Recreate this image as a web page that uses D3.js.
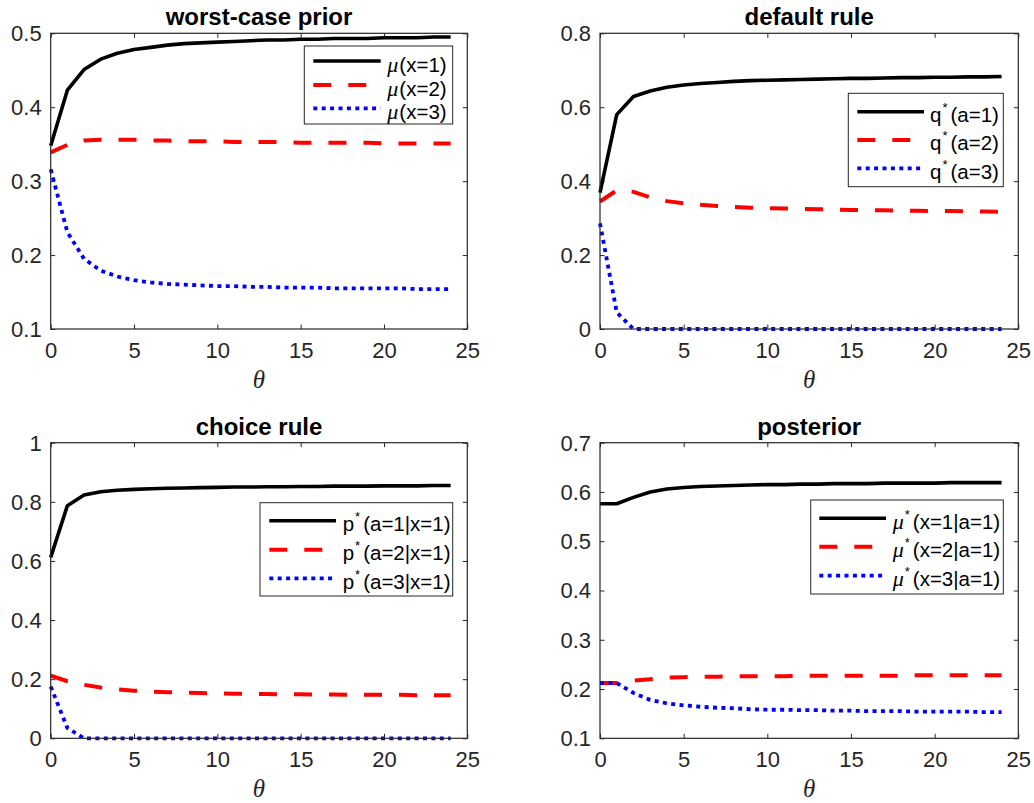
<!DOCTYPE html>
<html>
<head>
<meta charset="utf-8">
<script src="https://cdn.jsdelivr.net/npm/d3@7"></script>
<style>
  html, body { margin: 0; padding: 0; background: #fff; }
  svg { display: block; }
  .tick text { font-family: "Liberation Sans", Arial, sans-serif; fill: #262626; }
</style>
</head>
<body>
<svg id="chart" width="1034" height="803"></svg>
<script>
// ---------------- data ----------------
const theta = [0,1,2,3,4,5,6,7,8,9,10,11,12,13,14,15,16,17,18,19,20,21,22,23,24];
const xTicks = [0,5,10,15,20,25];

// worst-case prior
const prior1 = [0.348,0.423,0.451,0.465,0.473,0.478,0.481,0.484,0.486,0.487,0.488,0.489,0.490,0.491,0.491,0.492,0.492,0.493,0.493,0.493,0.494,0.494,0.494,0.495,0.495];
const prior2 = [0.339,0.349,0.355,0.356,0.356,0.356,0.355,0.355,0.354,0.354,0.354,0.353,0.353,0.353,0.353,0.352,0.352,0.352,0.352,0.352,0.351,0.351,0.351,0.351,0.351];
const prior3 = [0.316,0.231,0.195,0.179,0.171,0.166,0.163,0.161,0.160,0.159,0.158,0.158,0.157,0.157,0.156,0.156,0.156,0.155,0.155,0.155,0.155,0.155,0.154,0.154,0.154];
const priorTicks = [0.1,0.2,0.3,0.4,0.5];

// default rule
const default1 = [0.369,0.580,0.629,0.644,0.654,0.660,0.664,0.667,0.670,0.672,0.673,0.674,0.675,0.676,0.677,0.678,0.678,0.679,0.680,0.680,0.681,0.681,0.682,0.682,0.683];
const default2 = [0.345,0.375,0.371,0.356,0.346,0.340,0.336,0.333,0.330,0.328,0.327,0.326,0.325,0.324,0.323,0.322,0.322,0.321,0.320,0.320,0.319,0.319,0.318,0.318,0.317];
const default3 = [0.286,0.045,0,0,0,0,0,0,0,0,0,0,0,0,0,0,0,0,0,0,0,0,0,0,0];
const defaultTicks = [0,0.2,0.4,0.6,0.8];

// choice rule
const choice1 = [0.612,0.787,0.823,0.834,0.839,0.842,0.844,0.846,0.847,0.848,0.849,0.850,0.850,0.851,0.851,0.852,0.852,0.853,0.853,0.853,0.854,0.854,0.854,0.855,0.855];
const choice2 = [0.212,0.193,0.181,0.172,0.166,0.161,0.158,0.156,0.154,0.153,0.152,0.151,0.150,0.150,0.149,0.149,0.148,0.148,0.147,0.147,0.147,0.147,0.146,0.146,0.146];
const choice3 = [0.175,0.035,0,0,0,0,0,0,0,0,0,0,0,0,0,0,0,0,0,0,0,0,0,0,0];
const choiceTicks = [0,0.2,0.4,0.6,0.8,1];

// posterior
const post1 = [0.576,0.576,0.589,0.600,0.606,0.609,0.611,0.612,0.613,0.614,0.615,0.615,0.616,0.616,0.617,0.617,0.617,0.618,0.618,0.618,0.618,0.619,0.619,0.619,0.619];
const post2 = [0.212,0.212,0.217,0.220,0.223,0.224,0.225,0.225,0.226,0.226,0.226,0.226,0.227,0.227,0.227,0.227,0.227,0.227,0.227,0.228,0.228,0.228,0.228,0.228,0.228];
const post3 = [0.212,0.212,0.192,0.178,0.171,0.167,0.164,0.162,0.161,0.159,0.158,0.158,0.157,0.157,0.156,0.156,0.155,0.155,0.155,0.154,0.154,0.154,0.154,0.153,0.153];
const postTicks = [0.1,0.2,0.3,0.4,0.5,0.6,0.7];

const titles = ["worst-case prior","default rule","choice rule","posterior"];
// legend labels: [base, superscript star?, suffix, base is greek]
const priorLabels = [["\u03bc",false,"(x=1)",true],["\u03bc",false,"(x=2)",true],["\u03bc",false,"(x=3)",true]];
const defaultLabels = [["q",true,"(a=1)",false],["q",true,"(a=2)",false],["q",true,"(a=3)",false]];
const choiceLabels = [["p",true,"(a=1|x=1)",false],["p",true,"(a=2|x=1)",false],["p",true,"(a=3|x=1)",false]];
const postLabels = [["\u03bc",true,"(x=1|a=1)",true],["\u03bc",true,"(x=2|a=1)",true],["\u03bc",true,"(x=3|a=1)",true]];

// ---------------- layout / styles ----------------
const styles = [
  {stroke:"#000000", dash:null, width:3.6},
  {stroke:"#ff0000", dash:"18,17", width:4},
  {stroke:"#0000ff", dash:"4,4.4", width:3.8}
];

const panels = [
  {title:titles[0], box:[50.7,467.3,33.3,329], yDom:[0.1,0.5], yTicks:priorTicks, series:[prior1,prior2,prior3], labels:priorLabels,
   leg:{x:304.3,y:46,w:148.4,h:78,rows:[15,39,62.3],lx0:9,lx1:76.4,tx:83}},
  {title:titles[1], box:[600,1018.3,33.3,329], yDom:[0,0.8], yTicks:defaultTicks, series:[default1,default2,default3], labels:defaultLabels,
   leg:{x:848.3,y:93.3,w:155,h:93.4,rows:[18.4,46.7,75],lx0:9,lx1:75.7,tx:81.7}},
  {title:titles[2], box:[50.7,467.3,442.7,738.3], yDom:[0,1], yTicks:choiceTicks, series:[choice1,choice2,choice3], labels:choiceLabels,
   leg:{x:260,y:502.7,w:192.7,h:93.3,rows:[18,47,75.6],lx0:9.3,lx1:76,tx:82.7}},
  {title:titles[3], box:[600,1018.3,442.7,738.3], yDom:[0.1,0.7], yTicks:postTicks, series:[post1,post2,post3], labels:postLabels,
   leg:{x:810.7,y:500,w:192.6,h:94,rows:[18.3,46.7,75.7],lx0:8.6,lx1:75.3,tx:82}}
];

const svg = d3.select("#chart");
const fmt = d => (d === 0 ? "0" : (Math.abs(d - 1) < 1e-9 ? "1" : d3.format(".1f")(d)));
const axisColor = "#262626";
const tickFont = 22;

panels.forEach(p => {
  const [x0,x1,y0,y1] = p.box;
  const x = d3.scaleLinear().domain([0,25]).range([x0,x1]);
  const y = d3.scaleLinear().domain(p.yDom).range([y1,y0]);
  const g = svg.append("g");

  g.append("rect").attr("x",x0).attr("y",y0).attr("width",x1-x0).attr("height",y1-y0).attr("fill","#fff");

  const left = g.append("g").attr("transform",`translate(${x0},0)`)
    .call(d3.axisLeft(y).tickValues(p.yTicks).tickFormat(fmt).tickSizeInner(-4.5).tickSizeOuter(0).tickPadding(9));
  const bottom = g.append("g").attr("transform",`translate(0,${y1})`)
    .call(d3.axisBottom(x).tickValues(xTicks).tickFormat(d3.format("d")).tickSizeInner(-4.5).tickSizeOuter(0).tickPadding(13));
  const right = g.append("g").attr("transform",`translate(${x1},0)`)
    .call(d3.axisRight(y).tickValues(p.yTicks).tickFormat("").tickSizeInner(-4.5).tickSizeOuter(0));
  const top = g.append("g").attr("transform",`translate(0,${y0})`)
    .call(d3.axisTop(x).tickValues(xTicks).tickFormat("").tickSizeInner(-4.5).tickSizeOuter(0));
  [left,bottom,right,top].forEach(a => {
    a.selectAll(".domain").remove();
    a.selectAll(".tick line").attr("stroke",axisColor).attr("stroke-width",1);
    a.selectAll(".tick text").attr("font-size",tickFont).attr("fill",axisColor)
      .attr("font-family","'Liberation Sans', Arial, sans-serif");
  });
  left.selectAll(".tick text").attr("dy","0.34em");

  const line = d3.line().x((d,i) => x(theta[i])).y(d => y(d));
  p.series.forEach((s,k) => {
    const st = styles[k];
    g.append("path").datum(s).attr("d",line)
      .attr("fill","none").attr("stroke",st.stroke).attr("stroke-width",st.width)
      .attr("stroke-dasharray",st.dash).attr("stroke-linejoin","round").attr("stroke-linecap","butt");
  });

  g.append("rect").attr("x",x0).attr("y",y0).attr("width",x1-x0).attr("height",y1-y0)
    .attr("fill","none").attr("stroke",axisColor).attr("stroke-width",1.2);

  g.append("text").attr("x",(x0+x1)/2).attr("y",y0-8).attr("text-anchor","middle")
    .attr("font-family","'Liberation Sans', Arial, sans-serif").attr("font-weight","bold")
    .attr("font-size",24).attr("fill","#000").text(p.title);

  g.append("text").attr("x",(x0+x1)/2).attr("y",y1+59).attr("text-anchor","middle")
    .attr("font-family","'Liberation Serif', 'Times New Roman', serif").attr("font-style","italic")
    .attr("font-size",25).attr("fill",axisColor).text("\u03b8");

  const L = p.leg;
  const lg = g.append("g").attr("transform",`translate(${L.x},${L.y})`);
  lg.append("rect").attr("width",L.w).attr("height",L.h).attr("fill","#fff")
    .attr("stroke",axisColor).attr("stroke-width",1);
  p.labels.forEach((lab,k) => {
    const st = styles[k];
    const ry = L.rows[k];
    lg.append("line").attr("x1",L.lx0).attr("x2",L.lx1).attr("y1",ry).attr("y2",ry)
      .attr("stroke",st.stroke).attr("stroke-width",st.width).attr("stroke-dasharray",st.dash);
    const t = lg.append("text").attr("x",L.tx).attr("y",ry+10.5)
      .attr("font-family","'Liberation Sans', Arial, sans-serif").attr("font-size",20.5).attr("fill","#000");
    const base = t.append("tspan").text(lab[0]);
    if (lab[3]) base.attr("font-family","'Liberation Serif', 'Times New Roman', serif").attr("font-style","italic").attr("font-size",22);
    if (lab[1]) {
      t.append("tspan").attr("font-size",13).attr("dx",1).attr("dy",-10).text("*");
      t.append("tspan").attr("dx",3).attr("dy",10).text(lab[2]);
    } else {
      t.append("tspan").attr("dx",1).text(lab[2]);
    }
  });
});
</script>
</body>
</html>
